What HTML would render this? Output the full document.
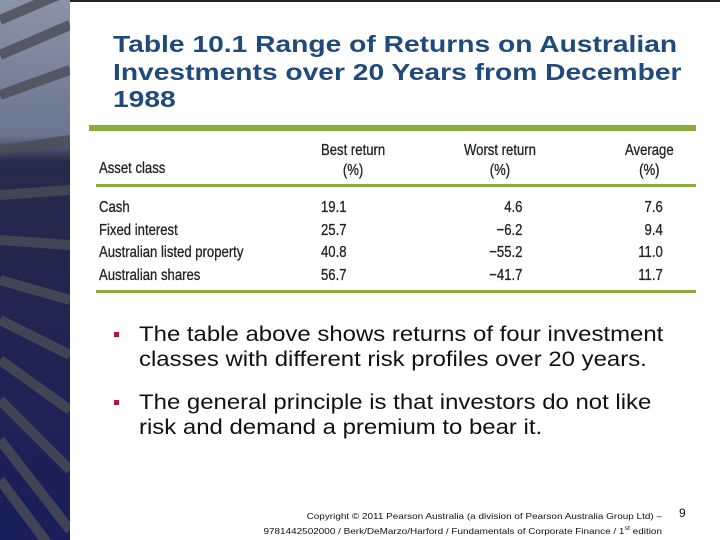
<!DOCTYPE html>
<html><head><meta charset="utf-8"><style>
body{margin:0;width:720px;height:540px;overflow:hidden;background:#fff;font-family:"Liberation Sans",sans-serif;position:relative}
.abs{position:absolute}
.t{color:#1f4a7c;font-weight:bold;font-size:23.5px;line-height:27.5px;left:113px;top:31px;white-space:nowrap;transform:scaleX(1.2);transform-origin:left top}
.tbl{font-size:16px;color:#222;transform:scaleX(0.82);transform-origin:left top;white-space:nowrap;-webkit-text-stroke:0.3px #222}
.b{font-size:21px;color:#111;line-height:25px;left:139px;white-space:nowrap;transform:scaleX(1.14);transform-origin:left top}
.bul{left:114px;width:5px;height:5px;background:#b0183a}
</style></head><body>
<svg class="abs" style="left:0;top:0" width="70" height="540">
<defs><linearGradient id="g" x1="0" y1="0" x2="0" y2="1">
<stop offset="0" stop-color="#8a93a8"/><stop offset="0.25" stop-color="#6c7590"/><stop offset="0.3" stop-color="#262a4a"/><stop offset="1" stop-color="#1a1e5a"/></linearGradient></defs>
<rect width="70" height="540" fill="url(#g)"/>
<g stroke="#4a4d55" stroke-width="10" opacity="0.8">
<line x1="0" y1="20" x2="70" y2="-10"/><line x1="0" y1="55" x2="70" y2="25"/><line x1="0" y1="95" x2="70" y2="70"/>
<line x1="0" y1="150" x2="70" y2="140"/><line x1="0" y1="195" x2="70" y2="190"/><line x1="0" y1="240" x2="70" y2="245"/>
<line x1="0" y1="280" x2="70" y2="300"/><line x1="0" y1="320" x2="70" y2="355"/><line x1="0" y1="360" x2="70" y2="410"/>
<line x1="0" y1="400" x2="70" y2="470"/><line x1="0" y1="440" x2="70" y2="530"/><line x1="0" y1="480" x2="60" y2="560"/>
</g></svg>
<div class="abs" style="left:70px;top:0;width:650px;height:2px;background:#222"></div>
<div class="abs t">Table 10.1 Range of Returns on Australian<br>Investments over 20 Years from December<br>1988</div>
<div class="abs" style="left:89px;top:125px;width:607px;height:6px;background:#8aac3a"></div>
<div class="abs" style="left:96px;top:184px;width:600px;height:3px;background:#8aac3a"></div>
<div class="abs" style="left:96px;top:290px;width:600px;height:3px;background:#8aac3a"></div>
<div>
<div class="abs tbl" style="left:99px;top:160px">Asset class</div>
<div class="abs tbl" style="left:321px;top:141px;line-height:20px;text-align:center">Best return<br>(%)</div>
<div class="abs tbl" style="left:464px;top:141px;line-height:20px;text-align:center">Worst return<br>(%)</div>
<div class="abs tbl" style="left:625px;top:141px;line-height:20px;text-align:center">Average<br>(%)</div>
<div class="abs tbl" style="left:99px;top:197px;line-height:22.7px">Cash<br>Fixed interest<br>Australian listed property<br>Australian shares</div>
<div class="abs tbl" style="left:321px;top:197px;line-height:22.7px">19.1<br>25.7<br>40.8<br>56.7</div>
<div class="abs tbl" style="left:488px;top:197px;line-height:22.7px;text-align:right;width:42px">4.6<br>&minus;6.2<br>&minus;55.2<br>&minus;41.7</div>
<div class="abs tbl" style="left:630px;top:197px;line-height:22.7px;text-align:right;width:40px">7.6<br>9.4<br>11.0<br>11.7</div>
</div>
<div class="abs bul" style="top:332px"></div>
<div class="abs b" style="top:322px">The table above shows returns of four investment<br>classes with different risk profiles over 20 years.</div>
<div class="abs bul" style="top:400px"></div>
<div class="abs b" style="top:390px">The general principle is that investors do not like<br>risk and demand a premium to bear it.</div>
<div class="abs" style="left:240px;top:510px;width:422px;text-align:right;font-size:8.5px;line-height:13px;color:#111;white-space:nowrap;transform:scaleX(1.17);transform-origin:right top">Copyright © 2011 Pearson Australia (a division of Pearson Australia Group Ltd) –<br>9781442502000 / Berk/DeMarzo/Harford / Fundamentals of Corporate Finance / 1<sup style="font-size:6px">st</sup> edition</div>
<div class="abs" style="left:679px;top:506px;font-size:12px;color:#111">9</div>
</body></html>
